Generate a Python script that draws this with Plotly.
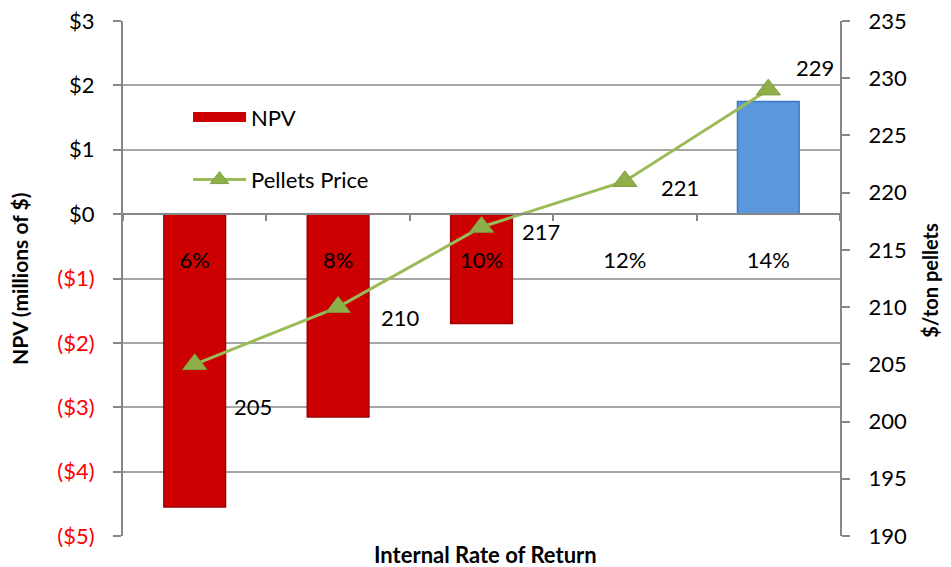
import plotly.graph_objects as go

# values
irr_labels = ["6%", "8%", "10%", "12%", "14%"]
npv_millions = [-4.55, -3.15, -1.70, 0.0, 1.75]
pellet_price = [205, 210, 217, 221, 229]

npv_ticks = [-5, -4, -3, -2, -1, 0, 1, 2, 3]
price_ticks = [190, 195, 200, 205, 210, 215, 220, 225, 230, 235]

# pixel nudges for the price data labels (style, not data)
label_shift = [(58, -42), (62, -10), (59, -4), (55, -6), (47, 22)]

FONT = "Lato"
GRID = "#A6A6A6"
AXIS = "#878787"


def money_label(v):
    if v < 0:
        return f"<span style='color:#FF0000'>(${-v})</span>"
    return f"${v}"


bar_colors = ["#CC0000" if v < 0 else "#5B97DB" for v in npv_millions]
bar_edges = ["#9E0000" if v < 0 else "#3F78BC" for v in npv_millions]

fig = go.Figure()

fig.add_trace(
    go.Bar(
        x=irr_labels,
        y=npv_millions,
        width=0.43,
        marker=dict(color=bar_colors, line=dict(color=bar_edges, width=1.5)),
        name="NPV",
        showlegend=False,
    )
)

# legend stand-in for the bars, drawn as a wide flat red swatch
fig.add_trace(
    go.Scatter(
        x=[None],
        y=[None],
        mode="lines",
        line=dict(color="#CC0000", width=12),
        name="NPV",
        legendgroup="npv",
    )
)

fig.add_trace(
    go.Scatter(
        x=irr_labels,
        y=pellet_price,
        yaxis="y2",
        mode="lines+markers",
        line=dict(color="#9BBB59", width=3),
        marker=dict(
            symbol="triangle-up",
            size=21,
            color="#8DB049",
            line=dict(color="#7E9E44", width=1),
        ),
        name="Pellets Price",
        legendgroup="price",
    )
)

for cat, val, (dx, dy) in zip(irr_labels, pellet_price, label_shift):
    fig.add_annotation(
        x=cat,
        y=val,
        yref="y2",
        text=str(val),
        showarrow=False,
        xshift=dx,
        yshift=dy,
        font=dict(family=FONT, size=22, color="black"),
    )

fig.add_annotation(
    text="<b>Internal Rate of Return</b>",
    xref="paper", yref="paper", x=0.506, y=-0.035,
    xanchor="center", yanchor="middle",
    showarrow=False, font=dict(family=FONT, size=22, color="black"),
)
fig.add_annotation(
    text="<b>NPV (millions of $)</b>",
    xref="paper", yref="paper", x=-0.145, y=0.499, textangle=-90,
    xanchor="center", yanchor="middle",
    showarrow=False, font=dict(family=FONT, size=21, color="black"),
)
fig.add_annotation(
    text="<b>$/ton pellets</b>",
    xref="paper", yref="paper", x=1.125, y=0.497, textangle=-90,
    xanchor="center", yanchor="middle",
    showarrow=False, font=dict(family=FONT, size=20, color="black"),
)

fig.update_layout(
    width=943,
    height=559,
    margin=dict(l=115, r=111, t=13, b=31),
    paper_bgcolor="white",
    plot_bgcolor="white",
    font=dict(family=FONT, size=22, color="black"),
    legend=dict(
        x=0.0907,
        y=0.854,
        xanchor="left",
        yanchor="top",
        bgcolor="rgba(0,0,0,0)",
        font=dict(family=FONT, size=22),
        tracegroupgap=31,
        itemwidth=53,
    ),
    xaxis=dict(
        type="category",
        anchor="free",
        position=5 / 8,
        automargin=False,
        showline=True,
        linecolor=AXIS,
        linewidth=2,
        ticks="outside",
        tickson="boundaries",
        ticklen=6,
        tickcolor=AXIS,
        tickwidth=2,
        ticklabelstandoff=26,
        showgrid=False,
        tickfont=dict(family=FONT, size=22, color="black"),
    ),
    yaxis=dict(
        range=[-5, 3],
        tickvals=npv_ticks,
        ticktext=[money_label(v) for v in npv_ticks],
        automargin=False,
        showline=True,
        linecolor=AXIS,
        linewidth=2,
        ticks="outside",
        ticklen=8,
        tickcolor=AXIS,
        tickwidth=2,
        ticklabelstandoff=14,
        ticklabeloverflow="allow",
        showgrid=True,
        gridcolor=GRID,
        gridwidth=1.5,
        zeroline=False,
        tickfont=dict(family=FONT, size=22, color="black"),
    ),
    yaxis2=dict(
        overlaying="y",
        side="right",
        range=[190, 235],
        tickvals=price_ticks,
        automargin=False,
        showline=True,
        linecolor=AXIS,
        linewidth=2,
        ticks="outside",
        ticklen=8,
        tickcolor=AXIS,
        tickwidth=2,
        ticklabelstandoff=14,
        ticklabeloverflow="allow",
        showgrid=False,
        zeroline=False,
        tickfont=dict(family=FONT, size=22, color="black"),
    ),
)

fig.write_html("out.html")
